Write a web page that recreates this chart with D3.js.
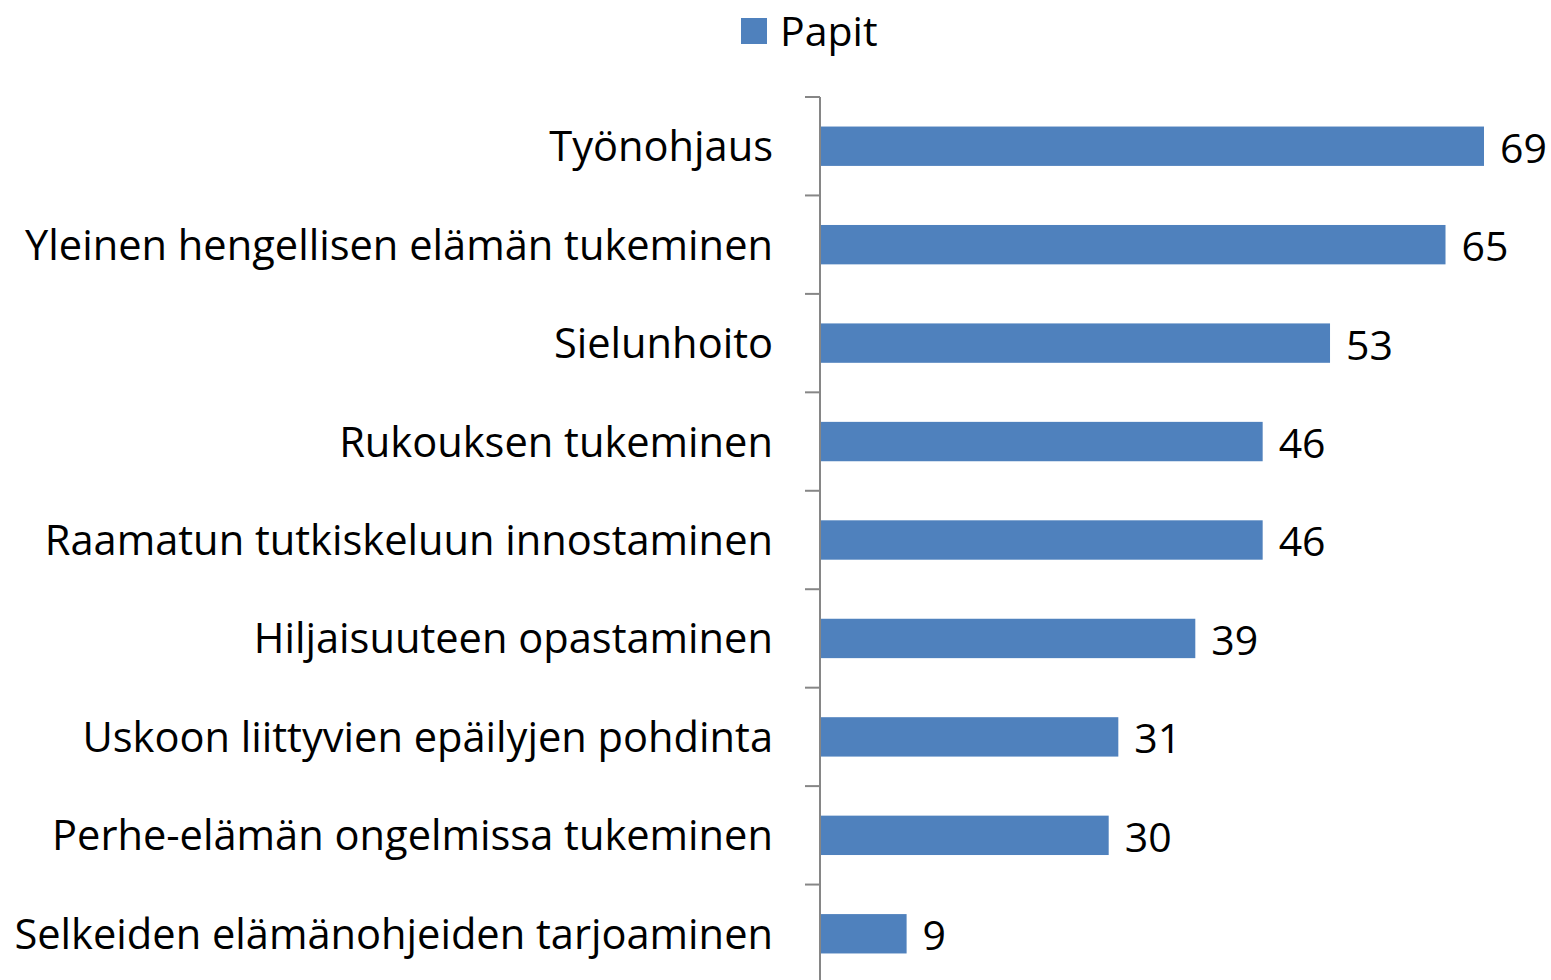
<!DOCTYPE html>
<html>
<head>
<meta charset="utf-8">
<script src="https://cdn.jsdelivr.net/npm/d3@7.9.0/dist/d3.min.js"></script>
<style>
  body { margin: 0; background: #fff; }
  svg { display: block; font-family: "Open Sans", Lato, sans-serif; }
</style>
</head>
<body>
<svg id="chart" width="1551" height="980"></svg>
<script>
const categories = [
  "Työnohjaus",
  "Yleinen hengellisen elämän tukeminen",
  "Sielunhoito",
  "Rukouksen tukeminen",
  "Raamatun tutkiskeluun innostaminen",
  "Hiljaisuuteen opastaminen",
  "Uskoon liittyvien epäilyjen pohdinta",
  "Perhe-elämän ongelmissa tukeminen",
  "Selkeiden elämänohjeiden tarjoaminen"
];
const values = [69, 65, 53, 46, 46, 39, 31, 30, 9];
const seriesName = "Papit";

const svg = d3.select("#chart");
const plotLeft = 820, plotTop = 97, plotBottom = 983;

const x = d3.scaleLinear().domain([0, 69]).range([plotLeft, 1484]);
const y = d3.scaleBand().domain(categories).range([plotTop, plotBottom]).paddingInner(0.6).paddingOuter(0.3);

// bars
svg.selectAll("rect.bar")
  .data(values)
  .join("rect")
  .attr("class", "bar")
  .attr("x", x(0))
  .attr("y", (d, i) => y(categories[i]))
  .attr("width", d => x(d) - x(0))
  .attr("height", y.bandwidth())
  .attr("fill", "#4f81bd");

// value labels
svg.selectAll("text.val")
  .data(values)
  .join("text")
  .attr("class", "val")
  .attr("x", d => x(d) + 16)
  .attr("y", (d, i) => y(categories[i]) + y.bandwidth() / 2)
  .attr("dy", "0.4em")
  .attr("font-size", 41)
  .attr("fill", "#000")
  .text(d => d);

// category axis
const step = (plotBottom - plotTop) / categories.length;
const ax = svg.append("g");
ax.append("line")
  .attr("x1", plotLeft).attr("x2", plotLeft)
  .attr("y1", plotTop).attr("y2", plotBottom)
  .attr("stroke", "#868686").attr("stroke-width", 2);
ax.selectAll("line.tick")
  .data(d3.range(categories.length + 1))
  .join("line")
  .attr("class", "tick")
  .attr("x1", plotLeft - 15).attr("x2", plotLeft)
  .attr("y1", i => plotTop + i * step).attr("y2", i => plotTop + i * step)
  .attr("stroke", "#868686").attr("stroke-width", 2);

ax.selectAll("text.cat")
  .data(categories)
  .join("text")
  .attr("class", "cat")
  .attr("x", 773)
  .attr("y", d => y(d) + y.bandwidth() / 2)
  .attr("dy", "0.36em")
  .attr("text-anchor", "end")
  .attr("font-size", 41.6)
  .attr("fill", "#000")
  .text(d => d);

// legend
const lg = svg.append("g");
lg.append("rect").attr("x", 741).attr("y", 18).attr("width", 26).attr("height", 26).attr("fill", "#4f81bd");
lg.append("text").attr("x", 780).attr("y", 31).attr("dy", "0.36em")
  .attr("font-size", 41).attr("fill", "#000").text(seriesName);
</script>
</body>
</html>
